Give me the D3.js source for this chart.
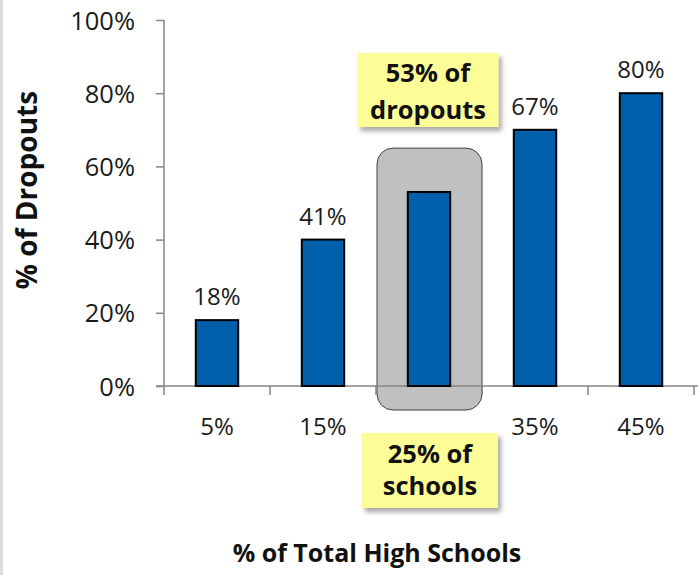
<!DOCTYPE html>
<html><head><meta charset="utf-8">
<script src="https://cdn.jsdelivr.net/npm/d3@7/dist/d3.min.js"></script>
<style>
html,body{margin:0;padding:0;background:#fff;}
svg{display:block;font-family:"Open Sans",sans-serif;}
</style></head>
<body>
<svg id="chart" width="698" height="575"></svg>
<script>
// ---- data ----
const categories = ["5%", "15%", "25%", "35%", "45%"];
const dropoutShare = [18, 40, 53, 70, 80];           // bar heights as drawn
const barLabels = ["18%", "41%", "53%", "67%", "80%"]; // printed labels
const yTicks = [0, 20, 40, 60, 80, 100];
const highlight = "25%";
const calloutTop = ["53% of", "dropouts"];
const calloutBottom = ["25% of", "schools"];
const yTitle = "% of Dropouts";
const xTitle = "% of Total High Schools";

// ---- setup ----
const W = 698, H = 575;
const FONT = "'Open Sans', sans-serif";
const svg = d3.select("#chart");
const axisColor = "#868686";
const barColor = "#005FAB";

const x = d3.scaleBand().domain(categories).range([164, 694]).paddingInner(0).paddingOuter(0);
const y = d3.scaleLinear().domain([0, 100]).range([386, 20]);
const step = x.bandwidth();
const barW = step * 0.4;

const defs = svg.append("defs");
const f = defs.append("filter").attr("id", "shadow").attr("x", "-20%").attr("y", "-20%").attr("width", "150%").attr("height", "150%");
f.append("feDropShadow").attr("dx", 3).attr("dy", 4).attr("stdDeviation", 2.5).attr("flood-color", "#000").attr("flood-opacity", 0.35);

// left border strip
svg.append("rect").attr("x", 0).attr("y", 0).attr("width", 3).attr("height", H).attr("fill", "#dcdcdc");

// highlight box behind bar
const hx = x(highlight);
svg.append("rect")
  .attr("x", hx + 1).attr("y", y(65))
  .attr("width", step - 1).attr("height", y(0) + 24 - y(65))
  .attr("rx", 16).attr("ry", 16)
  .attr("fill", "#c0c0c0").attr("stroke", "#404040").attr("stroke-width", 1);

// y axis
const yAxis = svg.append("g").attr("transform", "translate(164,0)")
  .call(d3.axisLeft(y).tickValues(yTicks).tickSize(8).tickPadding(21).tickFormat(d => d + "%"))
  .attr("font-family", FONT);
yAxis.select(".domain").remove();
yAxis.append("line").attr("x1", 0).attr("x2", 0).attr("y1", y(100)).attr("y2", y(0) + 9)
  .attr("stroke", axisColor).attr("stroke-width", 1.5);
yAxis.selectAll(".tick line").attr("stroke", axisColor).attr("stroke-width", 1.5);
yAxis.selectAll(".tick text").attr("font-size", 25.5).attr("fill", "#1a1a1a").attr("dy", "0.36em");

// x axis labels
const xAxis = svg.append("g").attr("transform", `translate(0,${y(0)})`)
  .call(d3.axisBottom(x).tickSize(0).tickPadding(32))
  .attr("font-family", FONT);
xAxis.select(".domain").remove();
xAxis.selectAll(".tick").filter(d => d === highlight).remove();
xAxis.selectAll(".tick text").attr("font-size", 24).attr("fill", "#1a1a1a");
// x axis line and boundary ticks
svg.append("line").attr("x1", 156).attr("x2", W).attr("y1", y(0)).attr("y2", y(0))
  .attr("stroke", axisColor).attr("stroke-width", 1.5);
svg.append("g").selectAll("line").data(categories.slice(1).concat(["__end"]))
  .join("line")
  .attr("x1", d => d === "__end" ? 694 : x(d)).attr("x2", d => d === "__end" ? 694 : x(d))
  .attr("y1", y(0)).attr("y2", y(0) + 9)
  .attr("stroke", axisColor).attr("stroke-width", 1.5);

// bars
const data = categories.map((c, i) => ({c, v: dropoutShare[i], label: barLabels[i]}));
svg.append("g").selectAll("rect").data(data).join("rect")
  .attr("x", d => x(d.c) + (step - barW) / 2)
  .attr("y", d => y(d.v))
  .attr("width", barW)
  .attr("height", d => y(0) - y(d.v))
  .attr("fill", barColor).attr("stroke", "#000").attr("stroke-width", 2);

// bar labels
svg.append("g").selectAll("text").data(data.filter(d => d.c !== highlight)).join("text")
  .attr("x", d => x(d.c) + step / 2)
  .attr("y", d => y(d.v) - 15)
  .attr("text-anchor", "middle").attr("font-size", 24).attr("fill", "#1a1a1a")
  .text(d => d.label);

// callouts
function callout(cx, top, w, h, lines, baselines) {
  const g = svg.append("g");
  g.append("rect").attr("x", cx - w / 2).attr("y", top).attr("width", w).attr("height", h)
    .attr("fill", "#FDFD98").attr("filter", "url(#shadow)");
  g.selectAll("text").data(lines).join("text")
    .attr("x", cx).attr("y", (d, i) => baselines[i])
    .attr("text-anchor", "middle").attr("font-size", 25.5).attr("font-weight", "bold").attr("fill", "#111")
    .text(d => d);
}
const ccx = hx + step / 2;
callout(ccx - 1, 53, 141, 74, calloutTop, [82, 119]);
callout(ccx + 1, 433, 136, 75, calloutBottom, [463, 495]);

// axis titles
svg.append("text").attr("transform", "translate(37,190) rotate(-90)")
  .attr("text-anchor", "middle").attr("font-size", 28).attr("font-weight", "bold").attr("fill", "#111")
  .text(yTitle);
svg.append("text").attr("x", 377).attr("y", 562)
  .attr("text-anchor", "middle").attr("font-size", 25).attr("font-weight", "bold").attr("fill", "#111")
  .text(xTitle);
</script>
</body></html>
